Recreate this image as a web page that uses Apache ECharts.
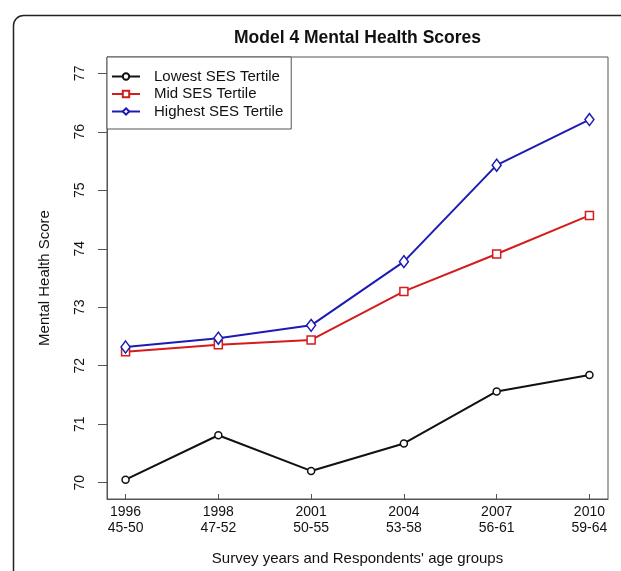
<!DOCTYPE html>
<html>
<head>
<meta charset="utf-8">
<script src="https://cdn.jsdelivr.net/npm/echarts@6/dist/echarts.min.js"></script>
<style>
html,body{margin:0;padding:0;background:#fff;}
#main{width:621px;height:571px;}
</style>
</head>
<body>
<div id="main"></div>
<script>
var years = ['1996', '1998', '2001', '2004', '2007', '2010'];
var ageGroups = ['45-50', '47-52', '50-55', '53-58', '56-61', '59-64'];
var seriesNames = ['Lowest SES Tertile', 'Mid SES Tertile', 'Highest SES Tertile'];
var lowest = [70.05, 70.81, 70.20, 70.67, 71.56, 71.84];
var mid = [72.24, 72.36, 72.44, 73.27, 73.91, 74.57];
var highest = [72.32, 72.47, 72.69, 73.78, 75.43, 76.21];
var yTicks = [70, 71, 72, 73, 74, 75, 76, 77];
var xTicks = [0, 1, 2, 3, 4, 5];

var FONT = 'Liberation Sans, Arial, sans-serif';
function pairs(arr){ return arr.map(function(v,i){ return [i, v]; }); }

var chart = echarts.init(document.getElementById('main'), null, {renderer:'canvas'});
var option = {
  animation: false,
  backgroundColor: '#fff',
  title: {
    text: 'Model 4 Mental Health Scores',
    left: 234, top: 29, padding: 0,
    textStyle: {fontFamily: FONT, fontSize: 17.5, fontWeight: 'bold', color: '#111'}
  },
  graphic: [{
    type: 'rect', left: 11, top: 13, z: -1,
    shape: {x: 0, y: 0, width: 700, height: 700, r: 10},
    style: {fill: 'none', stroke: '#222', lineWidth: 1.5}
  }],
  legend: {
    orient: 'vertical', left: 107, top: 57,
    padding: [12, 8, 10, 4], itemGap: 2.5,
    itemWidth: 28, itemHeight: 8,
    borderColor: '#555', borderWidth: 1, backgroundColor: '#fff',
    textStyle: {fontFamily: FONT, fontSize: 15, color: '#111', padding: [0,0,0,9]},
    data: seriesNames
  },
  grid: {left: 107, top: 57, width: 501, height: 446, show: true, borderColor: '#555', borderWidth: 1, backgroundColor: 'transparent'},
  xAxis: {
    type: 'value', min: -0.2, max: 5.2,
    name: "Survey years and Respondents' age groups",
    nameLocation: 'middle', nameGap: 52,
    nameTextStyle: {fontFamily: FONT, fontSize: 15, color: '#111'},
    axisLine: {show: true, onZero: false, lineStyle: {color: '#555'}},
    splitLine: {show: false},
    axisTick: {show: true, inside: true, length: 5, customValues: xTicks, lineStyle: {color: '#555'}},
    axisLabel: {
      customValues: xTicks, margin: 5,
      fontFamily: FONT, fontSize: 14, color: '#111', lineHeight: 16,
      formatter: function(v){ return years[v] + '\n' + ageGroups[v]; }
    }
  },
  yAxis: {
    type: 'value', min: 69.72, max: 77.28,
    name: 'Mental Health Score',
    nameLocation: 'middle', nameGap: 55, nameRotate: 90,
    nameTextStyle: {fontFamily: FONT, fontSize: 15, color: '#111'},
    axisLine: {show: true, onZero: false, lineStyle: {color: '#555'}},
    splitLine: {show: false},
    axisTick: {show: true, length: 9, customValues: yTicks, lineStyle: {color: '#555'}},
    axisLabel: {
      customValues: yTicks, rotate: 90, margin: 20,
      fontFamily: FONT, fontSize: 14, color: '#111'
    }
  },
  series: [
    {name: seriesNames[0], type: 'line', data: pairs(lowest), symbol: 'circle', symbolSize: 7,
     lineStyle: {color: '#111', width: 2}, itemStyle: {color: '#fff', borderColor: '#111', borderWidth: 1.5}, color: '#111'},
    {name: seriesNames[1], type: 'line', data: pairs(mid), symbol: 'rect', symbolSize: 8,
     lineStyle: {color: '#d41c1c', width: 2}, itemStyle: {color: '#fff', borderColor: '#d41c1c', borderWidth: 1.5}, color: '#d41c1c'},
    {name: seriesNames[2], type: 'line', data: pairs(highest), symbol: 'diamond', symbolSize: [9, 12],
     lineStyle: {color: '#1c1cb4', width: 2}, itemStyle: {color: '#fff', borderColor: '#1c1cb4', borderWidth: 1.5}, color: '#1c1cb4'}
  ]
};
chart.setOption(option);
</script>
</body>
</html>
